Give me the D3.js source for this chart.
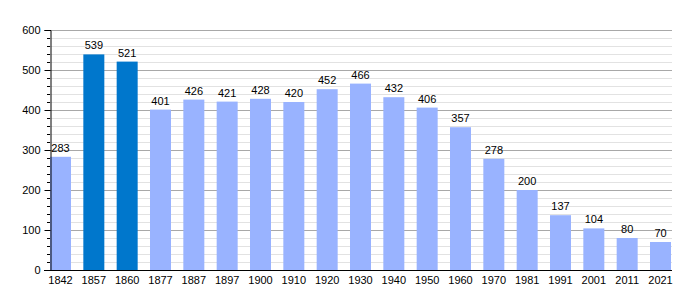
<!DOCTYPE html>
<html>
<head>
<meta charset="utf-8">
<script src="https://cdn.jsdelivr.net/npm/d3@7"></script>
<style>
  body { margin: 0; background: #fff; }
  text { font-family: "Liberation Sans", Arial, sans-serif; font-size: 11px; fill: #000; }
</style>
</head>
<body>
<div id="viz"></div>
<script>
// data
var YEARS = ["1842","1857","1860","1877","1887","1897","1900","1910","1920","1930",
             "1940","1950","1960","1970","1981","1991","2001","2011","2021"];
var POP = [283,539,521,401,426,421,428,420,452,466,432,406,357,278,200,137,104,80,70];
var HIGHLIGHT = ["1857","1860"];
var Y_TICKS = [0,100,200,300,400,500,600];

var W = 700, H = 300;
var LEFT = 50, RIGHT = 672, TOP = 30, BOTTOM = 270;

var svg = d3.select("#viz").append("svg")
    .attr("width", W)
    .attr("height", H);

var x = d3.scaleBand()
    .domain(YEARS)
    .range([LEFT, 671])
    .paddingInner(0.37)
    .paddingOuter(0)
    .align(0);

var y = d3.scaleLinear()
    .domain([0, 600])
    .range([BOTTOM, TOP]);

// minor gridlines
svg.append("g").selectAll("line")
    .data(d3.range(0, 601, 20).filter(function(v){ return v % 100 !== 0; }))
    .enter().append("line")
    .attr("x1", LEFT).attr("x2", RIGHT)
    .attr("y1", function(d){ return Math.round(y(d)) + 0.5; })
    .attr("y2", function(d){ return Math.round(y(d)) + 0.5; })
    .attr("stroke", "#e2e2e2");

// major gridlines
svg.append("g").selectAll("line")
    .data(Y_TICKS.slice(1))
    .enter().append("line")
    .attr("x1", LEFT).attr("x2", RIGHT)
    .attr("y1", function(d){ return Math.round(y(d)) + 0.5; })
    .attr("y2", function(d){ return Math.round(y(d)) + 0.5; })
    .attr("stroke", "#a8a8a8");

// bars
svg.append("g").selectAll("rect")
    .data(POP)
    .enter().append("rect")
    .attr("x", function(d, i){ return x(YEARS[i]); })
    .attr("width", x.bandwidth())
    .attr("y", function(d){ return y(d); })
    .attr("height", function(d){ return y(0) - y(d); })
    .attr("fill", function(d, i){
        return HIGHLIGHT.indexOf(YEARS[i]) >= 0 ? "#0077cc" : "#99b3ff";
    });

// value labels
svg.append("g").selectAll("text")
    .data(POP)
    .enter().append("text")
    .attr("x", function(d, i){ return x(YEARS[i]) + x.bandwidth() / 2; })
    .attr("y", function(d){ return y(d) - 5; })
    .attr("text-anchor", "middle")
    .text(function(d){ return d; });

// y axis
var yAxis = svg.append("g")
    .attr("transform", "translate(" + (LEFT + 0.5) + ",0)")
    .call(d3.axisLeft(y).tickValues(Y_TICKS).tickSize(6).tickPadding(4));
yAxis.select(".domain").attr("stroke", "#000");
yAxis.selectAll("text").style("font-size", "11px")
    .style("font-family", "Liberation Sans, Arial, sans-serif");

// minor ticks on y axis
svg.append("g").selectAll("line")
    .data(d3.range(0, 601, 20).filter(function(v){ return v % 100 !== 0; }))
    .enter().append("line")
    .attr("x1", LEFT - 3).attr("x2", LEFT)
    .attr("y1", function(d){ return Math.round(y(d)) + 0.5; })
    .attr("y2", function(d){ return Math.round(y(d)) + 0.5; })
    .attr("stroke", "#000");

// x axis
var xAxis = svg.append("g")
    .attr("transform", "translate(0," + (BOTTOM + 0.5) + ")")
    .call(d3.axisBottom(x).tickSize(0).tickPadding(6));
xAxis.select(".domain").attr("d", "M" + (LEFT - 6) + ",0H" + RIGHT).attr("stroke", "#000");
xAxis.selectAll("text").style("font-size", "11px")
    .style("font-family", "Liberation Sans, Arial, sans-serif");
</script>
</body>
</html>
